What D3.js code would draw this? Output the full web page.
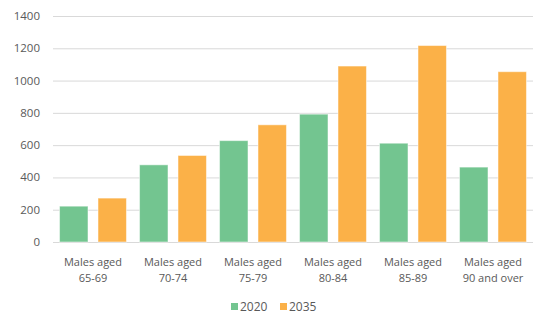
<!DOCTYPE html>
<html>
<head>
<meta charset="utf-8">
<script src="https://cdn.jsdelivr.net/npm/d3@7"></script>
<style>
  body { margin: 0; background: #fff; }
  svg text { font-family: "Open Sans", sans-serif; fill: #595959; }
</style>
</head>
<body>
<svg width="534" height="315"></svg>
<script>
let categories = [
  ["Males aged", "65-69"],
  ["Males aged", "70-74"],
  ["Males aged", "75-79"],
  ["Males aged", "80-84"],
  ["Males aged", "85-89"],
  ["Males aged", "90 and over"],
];
let seriesNames = ["2020", "2035"];
let values2020 = [222, 478, 628, 792, 612, 464];
let values2035 = [272, 536, 726, 1090, 1217, 1055];
let yTicks = [0, 200, 400, 600, 800, 1000, 1200, 1400];

let colors = ["#73c590", "#fbb148"];

let svg = d3.select("svg"),
  plotLeft = 53,
  plotRight = 533,
  plotTop = 16,
  plotBottom = 242;

let xScale = d3.scaleBand().domain(d3.range(categories.length)).range([plotLeft, plotRight]),
  inner = d3.scaleBand().domain(seriesNames).range([0, xScale.bandwidth()]).paddingInner(0.26).paddingOuter(0.17),
  yScale = d3.scaleLinear().domain([0, 1400]).range([plotBottom, plotTop]);

// gridlines
svg.append("g")
  .selectAll("line")
  .data(yTicks)
  .enter()
  .append("line")
  .attr("x1", plotLeft)
  .attr("x2", plotRight)
  .attr("y1", d => yScale(d) + 0.5)
  .attr("y2", d => yScale(d) + 0.5)
  .attr("stroke", "#d9d9d9")
  .attr("stroke-width", 1);

// y labels
svg.append("g")
  .selectAll("text")
  .data(yTicks)
  .enter()
  .append("text")
  .attr("x", 40)
  .attr("y", d => yScale(d))
  .attr("dy", "0.35em")
  .attr("text-anchor", "end")
  .style("font-size", "11.5px")
  .text(d => d);

// bars
let rows = categories.map((c, i) => [
  { i: i, s: "2020", v: values2020[i], c: colors[0] },
  { i: i, s: "2035", v: values2035[i], c: colors[1] },
]);

svg.append("g")
  .selectAll("g")
  .data(rows)
  .enter()
  .append("g")
  .attr("transform", (d, i) => "translate(" + xScale(i) + ",0)")
  .selectAll("rect")
  .data(d => d)
  .enter()
  .append("rect")
  .attr("x", d => inner(d.s))
  .attr("y", d => yScale(d.v))
  .attr("width", inner.bandwidth())
  .attr("height", d => plotBottom - yScale(d.v))
  .attr("fill", d => d.c)
  .attr("stroke", "#ffffff")
  .attr("stroke-opacity", 0.5)
  .attr("stroke-width", 1);

// x labels, two lines each
let xl = svg.append("g")
  .selectAll("g")
  .data(categories)
  .enter()
  .append("g");

xl.selectAll("text")
  .data((d, i) => d.map(t => ({ t: t, i: i })))
  .enter()
  .append("text")
  .attr("text-anchor", "middle")
  .style("font-size", "11px")
  .attr("x", d => xScale(d.i) + xScale.bandwidth() / 2)
  .attr("y", (d, j) => 266 + j * 15.5)
  .text(d => d.t);

// legend
let legend = svg.append("g").attr("transform", "translate(231,307)");
let items = legend.selectAll("g")
  .data(seriesNames)
  .enter()
  .append("g")
  .attr("transform", (d, i) => "translate(" + i * 49 + ",0)");

items.append("rect")
  .attr("x", 0)
  .attr("y", -4)
  .attr("width", 7)
  .attr("height", 7)
  .attr("fill", (d, i) => colors[i]);

items.append("text")
  .attr("x", 9)
  .attr("y", 0)
  .attr("dy", "0.35em")
  .style("font-size", "12px")
  .text(d => d);
</script>
</body>
</html>
